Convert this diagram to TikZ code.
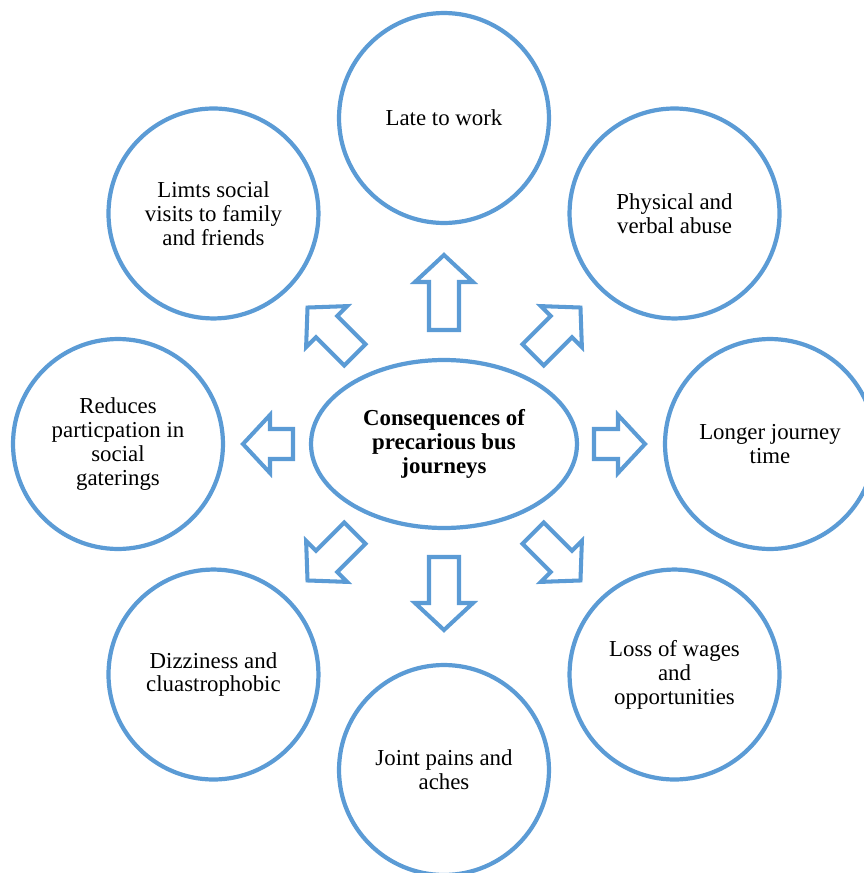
\documentclass[tikz,border=0pt]{standalone}
\usepackage{fontspec}
\setmainfont{Liberation Serif}
\usetikzlibrary{shapes.geometric}
\definecolor{accblue}{HTML}{5B9BD5}
\begin{document}
\begin{tikzpicture}[x=0.02cm, y=0.02cm,
    bubble/.style={circle, draw=accblue, line width=2.4pt, minimum size=4.2cm, inner sep=0pt, align=center, font=\fontsize{13}{13.6}\selectfont},
    core/.style={ellipse, draw=accblue, line width=2.4pt, minimum width=5.32cm, minimum height=3.36cm, inner sep=0pt, align=center, font=\fontsize{13}{13.6}\selectfont\bfseries},
    blockarr/.style={draw=accblue, line width=2.3pt, line join=miter}]
    \useasboundingbox (-444,-429) rectangle (419,444);
    \node[core] (cons) at (0,0) {Consequences of\\precarious bus\\journeys};
    \node[bubble] (late) at (90:326) {Late to work};
    \node[bubble] (abuse) at (45:326) {Physical and\\verbal abuse};
    \node[bubble] (longer) at (0:326) {Longer journey\\time};
    \node[bubble] (wages) at (-45:326) {Loss of wages\\and\\opportunities};
    \node[bubble] (pains) at (-90:326) {Joint pains and\\aches};
    \node[bubble] (dizzy) at (-135:326) {Dizziness and\\cluastrophobic};
    \node[bubble] (reduce) at (180:326) {Reduces\\particpation in\\social\\gaterings};
    \node[bubble] (visits) at (135:326) {Limts social\\visits to family\\and friends};
    % block arrows: angle / start / length
    \foreach \a/\s/\l in {90/114/75, 45/126/67, 0/150/51, -45/126/67, -90/113/73, -135/126/67, 180/151/50, 135/126/67}
        \draw[blockarr, rotate=\a] (\s,-15) -- ({\s+\l-27},-15) -- ({\s+\l-27},-29) -- ({\s+\l},0)
            -- ({\s+\l-27},29) -- ({\s+\l-27},15) -- (\s,15) -- cycle;
\end{tikzpicture}
\end{document}
